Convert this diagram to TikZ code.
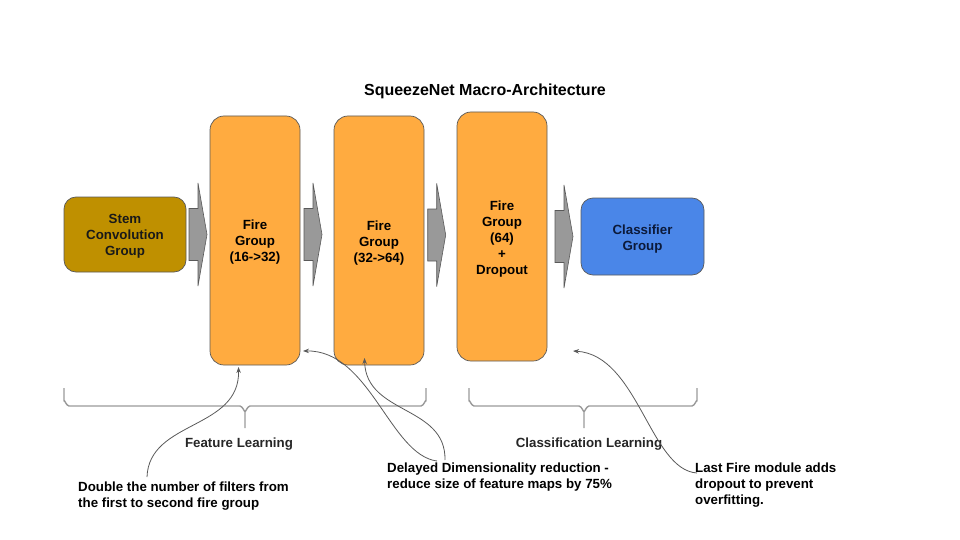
\documentclass[tikz,border=0pt]{standalone}
\usepackage{fontspec}
\setmainfont{Liberation Sans}
\usetikzlibrary{arrows.meta}
\definecolor{stemc}{HTML}{BF9000}
\definecolor{firec}{HTML}{FFAB40}
\definecolor{clsc}{HTML}{4A86E8}
\definecolor{edgec}{HTML}{595959}
\definecolor{bracec}{HTML}{999999}
\definecolor{arrc}{HTML}{999999}
\definecolor{navy}{HTML}{0C1A3A}
\tikzset{
  boxtxt/.style={font=\bfseries\fontsize{13.3}{16}\selectfont, align=center, inner sep=0pt},
  shapebox/.style={draw=edgec, line width=0.7pt},
  stembox/.style={shapebox, fill=stemc, rounded corners=12pt, minimum width=122pt, minimum height=75pt},
  firebox/.style={shapebox, fill=firec, rounded corners=14pt, minimum width=90pt, minimum height=249pt},
  clsbox/.style={shapebox, fill=clsc, rounded corners=12pt, minimum width=123pt, minimum height=77pt},
  blockarr/.style={draw=edgec, line width=0.6pt, fill=arrc},
  notetxt/.style={font=\bfseries\fontsize{13.3}{16}\selectfont, align=left, inner sep=0pt, anchor=west, text=black},
  grptxt/.style={font=\bfseries\fontsize{13.3}{16}\selectfont, inner sep=0pt, text=black!85},
  bracestyle/.style={draw=bracec, line width=1.4pt, line join=round},
  callout/.style={draw=edgec, line width=0.8pt, -{Stealth[length=6pt,width=4.5pt]}},
  pics/blockarrow/.style={code={
    \draw[blockarr] (0,-26) -- (9,-26) -- (9,-51.5) -- (18,0) -- (9,51.5) -- (9,26) -- (0,26) -- cycle;
  }}
}
\begin{document}
\begin{tikzpicture}[x=1pt,y=-1pt]
\useasboundingbox (0,0) rectangle (960,540);

\node[font=\bfseries\fontsize{16}{19}\selectfont, inner sep=0pt] (title) at (485,91) {SqueezeNet Macro-Architecture};

\node[stembox] (stem) at (125,234.5) {};
\node[firebox] (fire1) at (255,240.5) {};
\node[firebox] (fire2) at (379,240.5) {};
\node[firebox] (fire3) at (502,236.5) {};
\node[clsbox] (cls) at (642.5,236.5) {};

\node[boxtxt, text=black!90] (stemt) at ([yshift=-2pt]stem.center) {Stem\\Convolution\\Group};
\node[boxtxt] (fire1t) at ([yshift=-2pt]fire1.center) {Fire\\Group\\(16->32)};
\node[boxtxt] (fire2t) at ([yshift=-2.5pt]fire2.center) {Fire\\Group\\(32->64)};
\node[boxtxt] (fire3t) at ([yshift=-2.5pt]fire3.center) {Fire\\Group\\(64)\\+\\Dropout};
\node[boxtxt, text=navy] (clst) at ([yshift=-2.5pt]cls.center) {Classifier\\Group};

\pic at (189,234.5) {blockarrow};
\pic at (304,234.5) {blockarrow};
\pic at (427.7,235) {blockarrow};
\pic at (555,236.5) {blockarrow};

% braces
\draw[bracestyle] (64,388) -- (64,401) to[out=90,in=180] (69,406) -- (240,406) to[out=0,in=-90] (245,411) -- (245,428);
\draw[bracestyle] (245,411) to[out=-90,in=180] (250,406) -- (421,406) to[out=0,in=90] (426,401) -- (426,388);
\draw[bracestyle] (469,388) -- (469,401) to[out=90,in=180] (474,406) -- (579,406) to[out=0,in=-90] (584,411) -- (584,428);
\draw[bracestyle] (584,411) to[out=-90,in=180] (589,406) -- (692,406) to[out=0,in=90] (697,401) -- (697,388);

\node[grptxt] (featl) at (239,444) {Feature Learning};
\node[grptxt] (clsl) at (589,444) {Classification Learning};

\node[notetxt] (note1) at (78,496) {Double the number of filters from\\the first to second fire group};
\node[notetxt] (note2) at (387,477.5) {Delayed Dimensionality reduction -\\reduce size of feature maps by 75\%};
\node[notetxt] (note3) at (695,485.5) {Last Fire module adds\\dropout to prevent\\overfitting.};

\coordinate (n1s) at (147,477);
\coordinate (f1b) at (238.5,367);
\coordinate (n2a) at (437,461);
\coordinate (f1r) at (303,351);
\coordinate (n2b) at (445,460);
\coordinate (f2b) at (364.5,358);
\coordinate (n3s) at (697,473);
\coordinate (f3r) at (573,351);

\draw[callout] (n1s) .. controls (149,420) and (240,430) .. (f1b);
\draw[callout] (n2a) .. controls (390,455) and (370,350) .. (f1r);
\draw[callout] (n2b) .. controls (446,405) and (366,415) .. (f2b);
\draw[callout] (n3s) .. controls (650,470) and (638,355) .. (f3r);
\end{tikzpicture}
\end{document}
